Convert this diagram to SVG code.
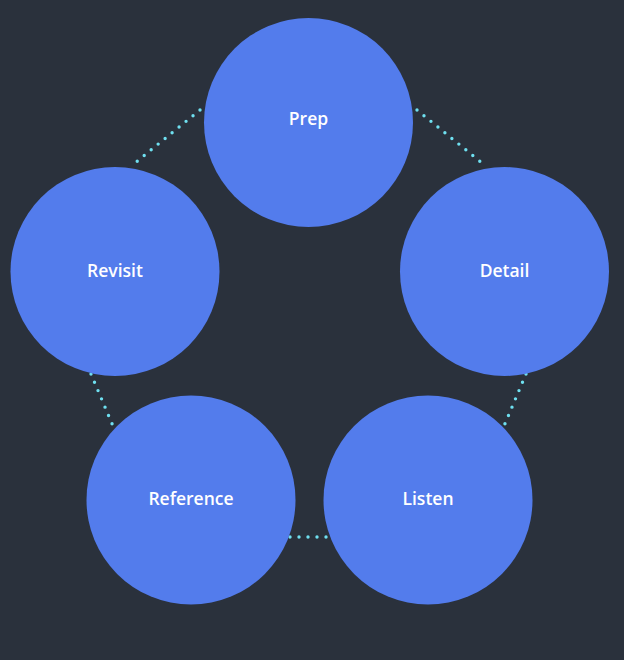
<svg xmlns="http://www.w3.org/2000/svg" width="624" height="660" viewBox="0 0 624 660">
<style>
.node{fill:#537cec}
.lbl{fill:#ffffff;font-family:"Open Sans","Liberation Sans",sans-serif;font-size:17.5px;font-weight:600;text-anchor:middle;dominant-baseline:central}
.dot{stroke:#6fe0f0;stroke-width:3.4;stroke-linecap:round;stroke-dasharray:0 9;fill:none}
</style>
<rect width="624" height="660" fill="#2a313c"/>
<g id="connectors">
<line class="dot" x1="417" y1="110" x2="482" y2="163"/>
<line class="dot" x1="200" y1="110" x2="135" y2="163"/>
<line class="dot" x1="526" y1="374" x2="504" y2="426"/>
<line class="dot" x1="91" y1="374" x2="113" y2="426"/>
<line class="dot" x1="290" y1="537" x2="328" y2="537"/>
</g>
<g id="prep"><circle class="node" cx="308.5" cy="122.5" r="104.5"/><text class="lbl" x="308.5" y="118">Prep</text></g>
<g id="detail"><circle class="node" cx="504.5" cy="271.5" r="104.5"/><text class="lbl" x="504.5" y="270">Detail</text></g>
<g id="listen"><circle class="node" cx="428" cy="500" r="104.5"/><text class="lbl" x="428" y="498">Listen</text></g>
<g id="reference"><circle class="node" cx="191" cy="500" r="104.5"/><text class="lbl" x="191" y="498">Reference</text></g>
<g id="revisit"><circle class="node" cx="115" cy="271.5" r="104.5"/><text class="lbl" x="115" y="270">Revisit</text></g>
</svg>
